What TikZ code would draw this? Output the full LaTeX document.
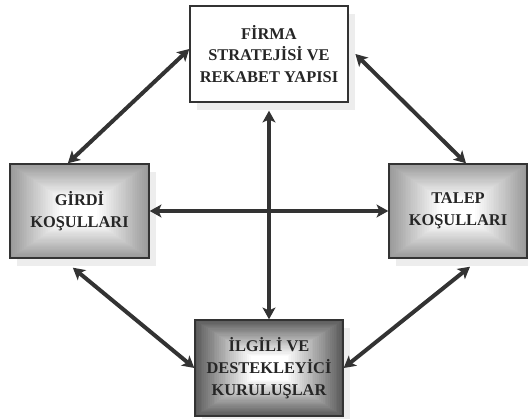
\documentclass[tikz,border=0pt]{standalone}
\usepackage{fontspec}
\setmainfont{Liberation Serif}
\usetikzlibrary{arrows.meta,calc,shadows}
\definecolor{okrenk}{HTML}{333333}
\definecolor{golgerenk}{HTML}{EDEDED}
\definecolor{acikgri}{HTML}{999999}
\definecolor{koyugri}{HTML}{5A5A5A}

\tikzset{
  kutu/.style={draw=okrenk, line width=1.2pt, align=center, inner sep=0pt,
    font=\bfseries\fontsize{14}{18.5}\selectfont, text=black!85,
    drop shadow={shadow xshift=0.22cm, shadow yshift=-0.24cm, fill=golgerenk, opacity=1}},
  beyaz/.style={kutu, fill=white},
  gri/.style={kutu, fill=#1, path picture={
    \foreach \i in {0,...,40}{
      \pgfmathsetmacro\oran{\i/40*0.5}
      \pgfmathtruncatemacro\renk{max(0,100*(1-\i/30))}
      \fill[#1!\renk!white]
        ($(path picture bounding box.south west)!\oran!(path picture bounding box.north east)$)
        rectangle
        ($(path picture bounding box.north east)!\oran!(path picture bounding box.south west)$);
    }}},
  ok/.style={draw=okrenk, line width=3.4pt,
    {Stealth[length=10pt,width=11pt,inset=2.5pt]}-{Stealth[length=10pt,width=11pt,inset=2.5pt]}}
}

\begin{document}
\begin{tikzpicture}
	\useasboundingbox (0,0) rectangle (15.84,12.57);

	% kutular
	\node [beyaz, minimum width=4.74cm, minimum height=2.88cm] (firma) at (8.07,10.95) {FİRMA\\STRATEJİSİ VE\\REKABET YAPISI};
	\node [gri=acikgri, minimum width=4.17cm, minimum height=2.82cm] (girdi) at (2.385,6.24) {GİRDİ\\KOŞULLARI};
	\node [gri=acikgri, minimum width=4.14cm, minimum height=2.82cm] (talep) at (13.74,6.24) {TALEP\\KOŞULLARI};
	\node [gri=koyugri, minimum width=4.44cm, minimum height=2.88cm] (ilgili) at (8.07,1.53) {İLGİLİ VE\\DESTEKLEYİCİ\\KURULUŞLAR};

	% oklar
	\draw [ok] (girdi.east) -- (talep.west);
	\draw [ok] ($(firma.south)+(0,-0.24)$) -- (ilgili.north);

	\draw [ok] ($(firma.west)+(0,0.15)$) -- ($(girdi.north)+(-0.35,0)$);
	\draw [ok] ($(firma.east)+(0.2,0)$) -- ($(talep.north)+(0.24,0)$);
	\draw [ok] ($(girdi.south)+(-0.2,-0.27)$) -- (ilgili.west);
	\draw [ok] ($(talep.south)+(0.36,-0.24)$) -- (ilgili.east);
\end{tikzpicture}
\end{document}
